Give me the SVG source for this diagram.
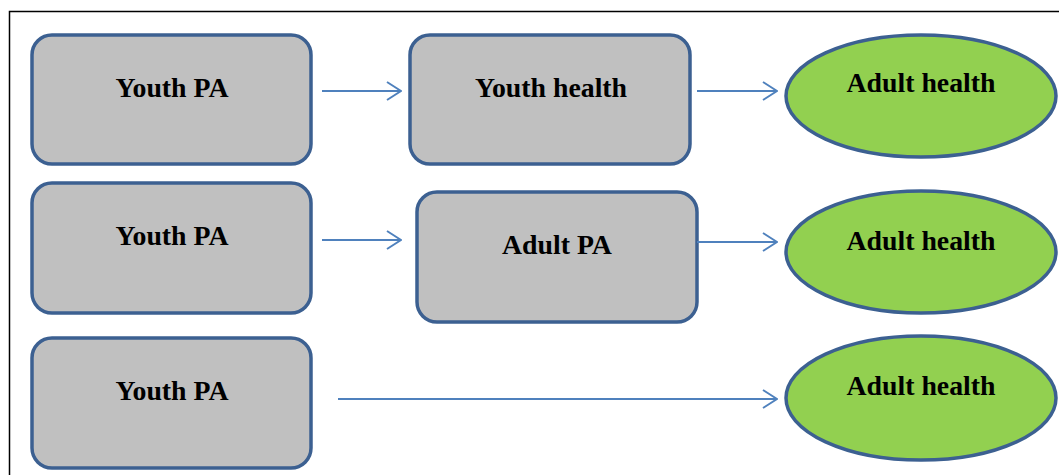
<svg xmlns="http://www.w3.org/2000/svg" width="1059" height="475" viewBox="0 0 1059 475">
<style>
.box{fill:#c0c0c0;stroke:#3c6091;stroke-width:3.5}
.ell{fill:#92d050;stroke:#3c6091;stroke-width:3.5}
.lbl{font-family:"Liberation Serif","Times New Roman",serif;font-weight:bold;font-size:27.8px;fill:#000;text-anchor:middle}
.con{stroke:#4f81bd;stroke-width:2;fill:none}
</style>
<defs>
<marker id="arr" markerWidth="16" markerHeight="20" refX="15" refY="10" orient="auto" markerUnits="userSpaceOnUse">
<path d="M1,1 L15,10 L1,19" fill="none" stroke="#4f81bd" stroke-width="2"/>
</marker>
</defs>
<rect width="1059" height="475" fill="#fff"/>
<path d="M9.5,475 V11.5 H1059" fill="none" stroke="#000" stroke-width="1.5"/>
<g id="n1"><rect class="box" x="32" y="35" width="279" height="129" rx="20"/><text class="lbl" x="172" y="97">Youth PA</text></g>
<g id="n2"><rect class="box" x="410" y="35" width="280" height="129" rx="20"/><text class="lbl" x="551" y="97">Youth health</text></g>
<g id="n3"><ellipse class="ell" cx="921" cy="96" rx="135" ry="61"/><text class="lbl" x="921" y="92">Adult health</text></g>
<g id="n4"><rect class="box" x="32" y="183" width="279" height="130" rx="20"/><text class="lbl" x="172" y="245">Youth PA</text></g>
<g id="n5"><rect class="box" x="417" y="192" width="280" height="130" rx="20"/><text class="lbl" x="557" y="254">Adult PA</text></g>
<g id="n6"><ellipse class="ell" cx="921" cy="252" rx="135" ry="61"/><text class="lbl" x="921" y="250">Adult health</text></g>
<g id="n7"><rect class="box" x="32" y="338" width="279" height="130" rx="20"/><text class="lbl" x="172" y="400">Youth PA</text></g>
<g id="n8"><ellipse class="ell" cx="921" cy="398" rx="135" ry="62"/><text class="lbl" x="921" y="395">Adult health</text></g>
<g id="connectors">
<line class="con" x1="322" y1="91" x2="401" y2="91" marker-end="url(#arr)"/>
<line class="con" x1="697" y1="91" x2="777" y2="91" marker-end="url(#arr)"/>
<line class="con" x1="322" y1="240" x2="401" y2="240" marker-end="url(#arr)"/>
<line class="con" x1="697" y1="242" x2="777" y2="242" marker-end="url(#arr)"/>
<line class="con" x1="338" y1="399" x2="777" y2="399" marker-end="url(#arr)"/>
</g>
</svg>
